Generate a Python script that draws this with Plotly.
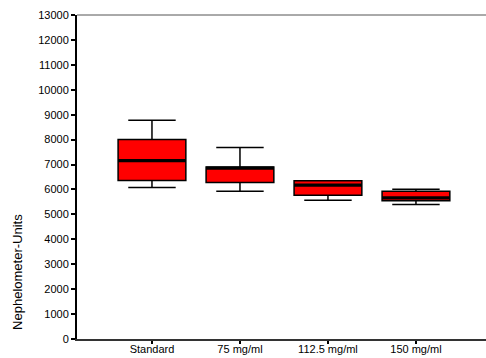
import plotly.graph_objects as go

categories = ["Standard", "75 mg/ml", "112.5 mg/ml", "150 mg/ml"]
lower_whisker = [6080, 5930, 5570, 5400]
q1 = [6360, 6280, 5770, 5545]
median = [7160, 6860, 6170, 5665]
q3 = [8000, 6900, 6345, 5930]
upper_whisker = [8780, 7680, 6345, 6010]

box_width = 0.77
pos = list(range(len(categories)))

fig = go.Figure()
fig.add_trace(go.Box(
    x=pos, q1=q1, median=median, q3=q3,
    lowerfence=lower_whisker, upperfence=upper_whisker,
    width=box_width, whiskerwidth=0.7,
    fillcolor="#FF0000", line=dict(color="#000000", width=1.5),
    boxpoints=False, showlegend=False, hoverinfo="skip",
))

# thicker median lines
mx, my = [], []
for p, m in zip(pos, median):
    mx += [p - box_width / 2, p + box_width / 2, None]
    my += [m, m, None]
fig.add_trace(go.Scatter(x=mx, y=my, mode="lines",
                         line=dict(color="#000000", width=3.2),
                         showlegend=False, hoverinfo="skip"))

fig.update_layout(
    width=486, height=358,
    margin=dict(l=77, r=0, t=15, b=19),
    paper_bgcolor="white", plot_bgcolor="white",
    font=dict(family="Liberation Sans, Arial, sans-serif", color="#000000", size=11),
    xaxis=dict(
        range=[-0.852, 3.796], tickmode="array", tickvals=pos, ticktext=categories,
        showgrid=False, zeroline=False, showline=True, linecolor="#333333", linewidth=2,
        ticks="outside", ticklen=3, tickwidth=2, tickcolor="#000000",
        tickfont=dict(size=11), ticklabelstandoff=-4,
    ),
    yaxis=dict(
        range=[0, 13000], dtick=1000, tickformat="d", showgrid=False, zeroline=False,
        showline=True, linecolor="#000000", linewidth=2,
        ticks="outside", ticklen=4, tickwidth=2, tickcolor="#000000",
        tickfont=dict(size=11),
    ),
    shapes=[dict(type="line", xref="paper", yref="paper", x0=0, x1=1, y0=1, y1=1,
                 line=dict(color="#555555", width=1))],
    annotations=[dict(text="Nephelometer-Units", xref="paper", yref="paper",
                      x=0, y=0.207, xshift=-59, textangle=-90, showarrow=False,
                      font=dict(size=13), xanchor="center", yanchor="middle")],
)

fig.write_html("out.html")
